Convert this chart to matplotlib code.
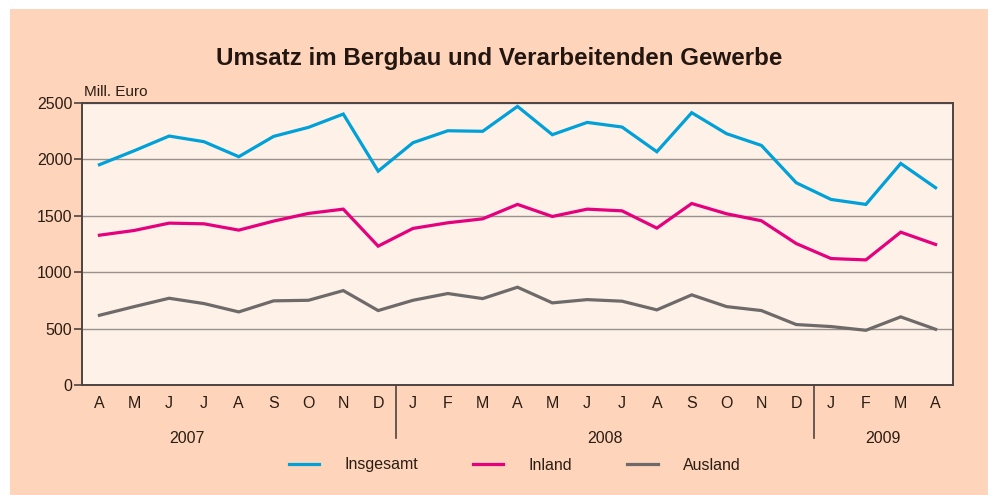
import matplotlib
matplotlib.use("Agg")
import matplotlib.pyplot as plt
from matplotlib.patches import Rectangle

plt.rcParams["font.family"] = ["Liberation Sans", "DejaVu Sans"]

months = ["A", "M", "J", "J", "A", "S", "O", "N", "D",
          "J", "F", "M", "A", "M", "J", "J", "A", "S", "O", "N", "D",
          "J", "F", "M", "A"]
years = ["2007", "2008", "2009"]
year_pos = [2.5, 14.5, 22.5]      # label centres (in month index units)
year_breaks = [8.5, 20.5]

insgesamt = [1953, 2077, 2207, 2157, 2024, 2204, 2284, 2402, 1896,
             2148, 2254, 2249, 2470, 2219, 2328, 2287, 2068, 2414, 2228, 2124, 1793,
             1645, 1601, 1964, 1749]
inland = [1328, 1370, 1435, 1429, 1373, 1453, 1521, 1559, 1231,
          1388, 1438, 1473, 1601, 1494, 1559, 1544, 1391, 1609, 1518, 1456, 1254,
          1121, 1109, 1355, 1246]
ausland = [618, 695, 769, 722, 648, 746, 751, 837, 660,
           751, 811, 766, 867, 728, 757, 743, 666, 799, 695, 660, 536,
           518, 485, 604, 494]

SERIES = [("Insgesamt", insgesamt, "#00a0d9"),
          ("Inland", inland, "#e5007e"),
          ("Ausland", ausland, "#6e6a6a")]

TXT = "#2b1d14"
SPINE = "#4d4340"

fig = plt.figure(figsize=(9.88, 4.95), dpi=100)
fig.patch.set_facecolor("white")
fig.patches.append(Rectangle((10 / 988, 0), 1, (495 - 9) / 495, transform=fig.transFigure,
                             facecolor="#fed5bb", edgecolor="none", zorder=-10))

ax = fig.add_axes([82 / 988, 110 / 495, 871 / 988, 282 / 495])
ax.set_facecolor("#fdf1e8")

x = list(range(len(months)))
for name, vals, col in SERIES:
    ax.plot(x, vals, color=col, lw=2.3, label=name, solid_joinstyle="miter", zorder=3)

ax.set_xlim(-0.5, len(months) - 0.5)
ax.set_ylim(0, 2500)
ax.set_yticks(range(0, 2501, 500))
ax.yaxis.grid(True, color="#9b918c", lw=1.0)
ax.set_axisbelow(True)
ax.tick_params(axis="y", length=6, width=1.2, color=SPINE, labelsize=11.5, labelcolor=TXT, pad=1)
ax.set_xticks(x)
ax.set_xticklabels(months)
ax.tick_params(axis="x", length=0, labelsize=11.5, labelcolor=TXT, pad=8)
for s in ax.spines.values():
    s.set_color(SPINE)
    s.set_linewidth(1.4)

for b in year_breaks:
    ax.axvline(b, ymin=-0.188, ymax=0, color=SPINE, lw=1.2, clip_on=False)
for yl, p in zip(years, year_pos):
    ax.text(p, -0.19, yl, transform=ax.get_xaxis_transform(), ha="center", va="center",
            fontsize=11.5, color=TXT)

ax.text(0.002, 1.04, "Mill. Euro", transform=ax.transAxes, ha="left", va="center",
        fontsize=11, color=TXT)
fig.text(0.505, (495 - 58) / 495, "Umsatz im Bergbau und Verarbeitenden Gewerbe",
         ha="center", va="center", fontsize=17.4, fontweight="bold", color="#231610")

fig.legend(loc="center", bbox_to_anchor=(0.521, (495 - 465) / 495), ncol=3, frameon=False,
           fontsize=11.5, handlelength=1.9, handletextpad=1.6, columnspacing=3.43,
           labelcolor=TXT)

fig.savefig("out.png", dpi=100)
